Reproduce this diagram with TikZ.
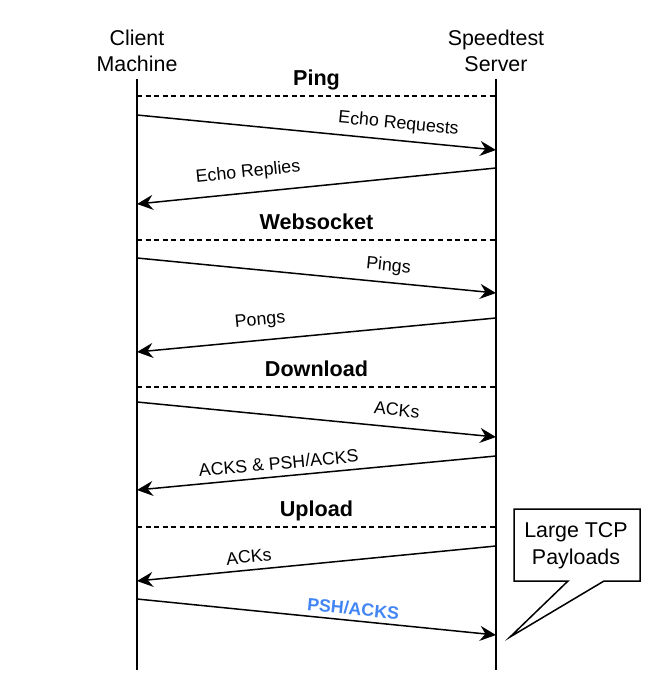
\documentclass[tikz,border=0pt]{standalone}
\usepackage{fontspec}
\setmainfont{Liberation Sans}
\usepackage{tikz}
\usetikzlibrary{arrows.meta}
\definecolor{colorP}{HTML}{4285F4}

\begin{document}
\begin{tikzpicture}[x=0.5pt, y=-0.5pt,
        actor/.style={align=center, inner sep=0pt, font=\fontsize{10.7}{13.3}\selectfont},
        phase/.style={anchor=base, inner sep=0pt, font=\fontsize{10.8}{12}\selectfont\bfseries},
        msg/.style={sloped, inner sep=0pt, font=\fontsize{8.9}{10}\selectfont},
        sep/.style={line width=0.65pt, dash pattern=on 2.5pt off 1.8pt},
        arr/.style={line width=0.75pt, -{Stealth[length=8pt,width=7.5pt,inset=2.7pt]}}]
        \useasboundingbox (0,0) rectangle (658,686);
        % actors and lifelines
        \node[actor] (client) at (137,50.7) {Client\\Machine};
        \node[actor] (server) at (496,50.7) {Speedtest\\Server};
        \coordinate (ctop) at (137,79);
        \coordinate (cbot) at (137,670);
        \coordinate (stop) at (496,79);
        \coordinate (sbot) at (496,670);
        \draw[line width=0.9pt] (ctop) -- (cbot);
        \draw[line width=0.9pt] (stop) -- (sbot);
        \foreach \y in {96,115,150,168,204,240,258,293,318,352,387,402,437,456,490,527,546,581,599,635}
            {\coordinate (c\y) at (137,\y); \coordinate (s\y) at (496,\y);}
        % Ping
        \node[phase] (ping) at (316.5,85) {Ping};
        \draw[sep] (c96) -- (s96);
        \draw[arr] (c115) -- node[msg, pos=0.724, above=3.6pt] (req) {Echo Requests} (s150);
        \draw[arr] (s168) -- node[msg, pos=0.685, above=5.6pt] (rep) {Echo Replies} (c204);
        % Websocket
        \node[phase] (websocket) at (316.5,229) {Websocket};
        \draw[sep] (c240) -- (s240);
        \draw[arr] (c258) -- node[msg, pos=0.696, above=3.6pt] (pings) {Pings} (s293);
        \draw[arr] (s318) -- node[msg, pos=0.652, above=5.3pt] (pongs) {Pongs} (c352);
        % Download
        \node[phase] (download) at (316.5,376) {Download};
        \draw[sep] (c387) -- (s387);
        \draw[arr] (c402) -- node[msg, pos=0.719, above=5.2pt] (dack) {ACKs} (s437);
        \draw[arr] (s456) -- node[msg, pos=0.602, above=3.1pt] (dpsh) {ACKS \& PSH/ACKS} (c490);
        % Upload
        \node[phase] (upload) at (316.5,516) {Upload};
        \draw[sep] (c527) -- (s527);
        \draw[arr] (s546) -- node[msg, pos=0.685, above=3.1pt] (uack) {ACKs} (c581);
        \draw[arr] (c599) -- node[msg, pos=0.599, above=2.3pt, text=colorP, font=\fontsize{8.9}{10}\selectfont\bfseries] (upsh) {PSH/ACKS} (s635);
        % callout
        \draw[line width=0.75pt, fill=white] (514,509) -- (640,509) -- (640,581) -- (604,581)
            -- (510,637) -- (568,581) -- (514,581) -- cycle;
        \node[actor] (payload) at (576,545.5) {Large TCP\\Payloads};
    \end{tikzpicture}
\end{document}
